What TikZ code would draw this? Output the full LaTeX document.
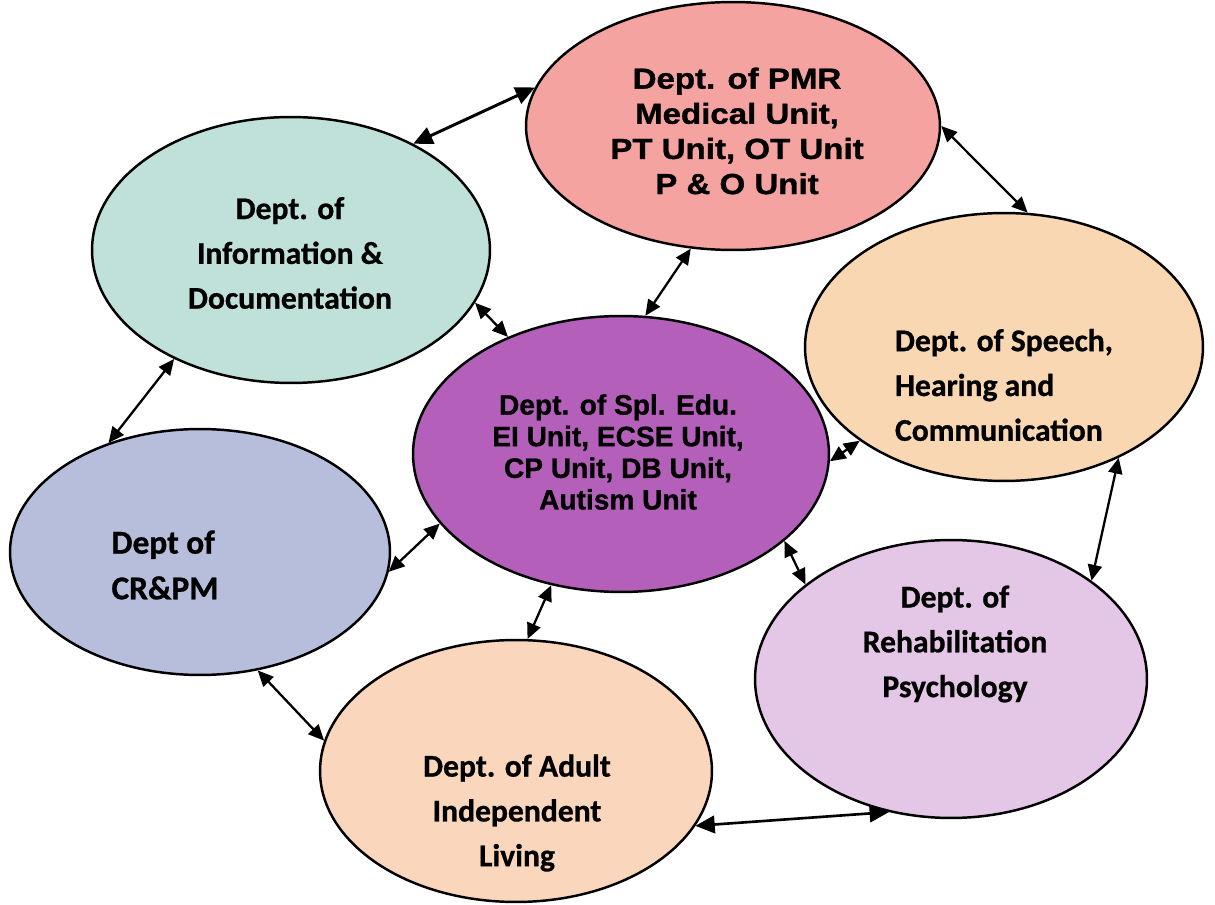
\documentclass[tikz,border=0pt]{standalone}
\usepackage{fontspec}
\setmainfont{Liberation Sans}
\newfontfamily\calfont[FakeBold=0.8]{Carlito}
\newfontfamily\widefont[FakeStretch=1.14,FakeBold=1.2]{Liberation Sans}
\newfontfamily\midfont[FakeBold=1]{Liberation Sans}
\usepackage{tikz}
\usetikzlibrary{shapes.geometric,arrows.meta}
\definecolor{pmrcol}{RGB}{244,163,160}
\definecolor{infocol}{RGB}{191,225,217}
\definecolor{speechcol}{RGB}{248,215,178}
\definecolor{educol}{RGB}{180,96,186}
\definecolor{crpmcol}{RGB}{183,190,220}
\definecolor{rehabcol}{RGB}{228,198,230}
\definecolor{adultcol}{RGB}{250,214,188}

\begin{document}
\begin{tikzpicture}[x=0.02cm,y=0.02cm,
    dept/.style={ellipse,draw=black,line width=1.4pt,inner sep=0pt},
    cal/.style={font=\calfont\bfseries\fontsize{18}{25.5}\selectfont,align=center},
    link/.style={{Triangle[length=9pt,width=8pt]}-{Triangle[length=9pt,width=8pt]},line width=1.3pt},
    biglink/.style={{Triangle[length=11pt,width=10pt]}-{Triangle[length=11pt,width=10pt]},line width=1.7pt}]
      \useasboundingbox (0,0) rectangle (1215,904);
      \node[dept,fill=pmrcol,minimum width=8.28cm,minimum height=4.96cm] at (733,778) (pmr) {};
      \node[dept,fill=infocol,minimum width=7.96cm,minimum height=5.32cm] at (291,654) (info) {};
      \node[dept,fill=speechcol,minimum width=7.96cm,minimum height=5.36cm] at (1004,557) (speech) {};
      \node[dept,fill=educol,minimum width=8.32cm,minimum height=5.52cm] at (621,450) (edu) {};
      \node[dept,fill=crpmcol,minimum width=7.6cm,minimum height=4.92cm] at (200,352) (crpm) {};
      \node[dept,fill=rehabcol,minimum width=7.84cm,minimum height=5.56cm] at (951,225) (rehab) {};
      \node[dept,fill=adultcol,minimum width=7.84cm,minimum height=5.24cm] at (516,133) (adult) {};
      \node[font=\widefont\bfseries\fontsize{16.5}{20}\selectfont,align=center] at (737,773) (pmrtxt) {Dept. of PMR\\Medical Unit,\\PT Unit, OT Unit\\P \& O Unit};
      \node[font=\midfont\bfseries\fontsize{16}{18}\selectfont,align=center] at (618,452) (edutxt) {Dept. of Spl. Edu.\\EI Unit, ECSE Unit,\\CP Unit, DB Unit,\\Autism Unit};
      \node[cal] at (290,651) (infotxt) {Dept. of\\Information \&\\Documentation};
      \node[cal,align=left] at (1004,519) (speechtxt) {Dept. of Speech,\\Hearing and\\Communication};
      \node[cal,align=left,font=\calfont\bfseries\fontsize{19}{26}\selectfont] at (165,339) (crpmtxt) {Dept of\\CR\&PM};
      \node[cal] at (955,260) (rehabtxt) {Dept. of\\Rehabilitation\\Psychology};
      \node[cal] at (517,91) (adulttxt) {Dept. of Adult\\Independent\\Living};
      \draw[biglink] (info.41) -- (pmr.169);
      \draw[link] (pmr.0) -- (speech.80);
      \draw[link] (pmr.251) -- (edu.80);
      \draw[link] (info.344) -- (edu.134);
      \draw[link] (speech.213) -- (edu.358);
      \draw[link] (speech.316) -- (rehab.35);
      \draw[link] (edu.201) -- (crpm.354);
      \draw[link] (edu.332) -- (rehab.147);
      \draw[link] (edu.242) -- (adult.85);
      \draw[link] (info.223) -- (crpm.130);
      \draw[link] (crpm.296) -- (adult.171);
      \draw[biglink,line width=1.5pt] (adult.343) -- (rehab.245);
    \end{tikzpicture}
\end{document}
